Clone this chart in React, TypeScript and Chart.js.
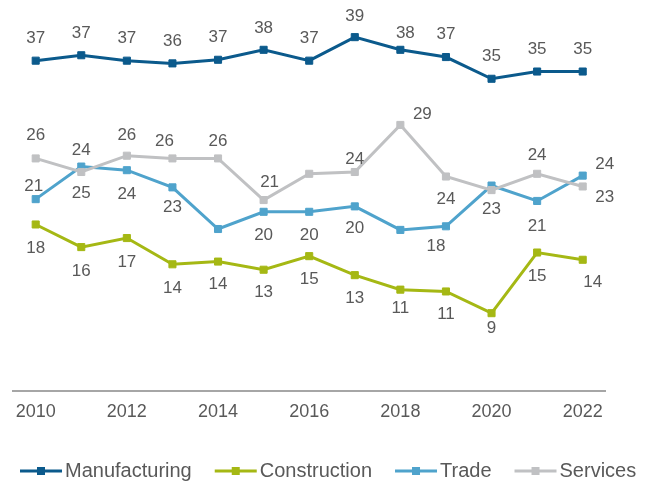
import React, { useEffect, useRef } from "react";
import { Chart, registerables } from "chart.js";

Chart.register(...registerables);

const YEARS = ["2010", "2011", "2012", "2013", "2014", "2015", "2016", "2017", "2018", "2019", "2020", "2021", "2022"];

const MANUFACTURING = [36.5, 37.1, 36.5, 36.2, 36.6, 37.7, 36.5, 39.1, 37.7, 36.9, 34.5, 35.3, 35.3];
const CONSTRUCTION = [18.4, 15.9, 16.9, 14.0, 14.3, 13.4, 14.9, 12.8, 11.2, 11.0, 8.6, 15.3, 14.5];
const TRADE = [21.2, 24.8, 24.4, 22.5, 17.9, 19.8, 19.8, 20.4, 17.8, 18.2, 22.7, 21.0, 23.8];
const SERVICES = [25.7, 24.2, 26.0, 25.7, 25.7, 21.1, 24.0, 24.2, 29.4, 23.7, 22.2, 24.0, 22.6];

const MANUFACTURING_LABELS = ["37", "37", "37", "36", "37", "38", "37", "39", "38", "37", "35", "35", "35"];
const CONSTRUCTION_LABELS = ["18", "16", "17", "14", "14", "13", "15", "13", "11", "11", "9", "15", "14"];
const TRADE_LABELS = ["21", "24", "24", "23", "", "20", "20", "20", "", "18", "23", "21", "24"];
const SERVICES_LABELS = ["26", "25", "26", "26", "26", "21", "", "24", "29", "24", "", "24", "23"];

// label placement relative to each point [dx, dy] (styling only)
const MANUFACTURING_LABEL_OFFSETS = [[0, -22], [0, -22], [0, -22], [0, -22], [0, -22], [0, -22], [0, -22], [0, -21], [5, -17], [0, -23], [0, -22], [0, -22], [0, -22]];
const CONSTRUCTION_LABEL_OFFSETS = [[0, 24], [0, 24], [0, 24], [0, 24], [0, 23], [0, 23], [0, 23], [0, 23], [0, 19], [0, 23], [0, 15], [0, 24], [10, 23]];
const TRADE_LABEL_OFFSETS = [[-2, -13], [0, -16], [0, 24], [0, 20], [0, 0], [0, 24], [0, 24], [0, 22], [0, 0], [-10, 20], [0, 24], [0, 25], [22, -11]];
const SERVICES_LABEL_OFFSETS = [[0, -23], [0, 21], [0, -20], [-8, -17], [0, -17], [6, -18], [0, 0], [0, -13], [22, -11], [0, 23], [0, 0], [0, -18], [22, 11]];

const SERIES = [
  { name: "Manufacturing", data: MANUFACTURING, labels: MANUFACTURING_LABELS, offsets: MANUFACTURING_LABEL_OFFSETS, color: "#0B5A8C", order: 3 },
  { name: "Construction", data: CONSTRUCTION, labels: CONSTRUCTION_LABELS, offsets: CONSTRUCTION_LABEL_OFFSETS, color: "#A5B814", order: 2 },
  { name: "Trade", data: TRADE, labels: TRADE_LABELS, offsets: TRADE_LABEL_OFFSETS, color: "#4FA3CC", order: 1 },
  { name: "Services", data: SERVICES, labels: SERVICES_LABELS, offsets: SERVICES_LABEL_OFFSETS, color: "#C0C1C3", order: 0 },
];

const TEXT_COLOR = "#595959";
const FONT_FAMILY = "'Liberation Sans', Arial, sans-serif";

const dataLabelPlugin = {
  id: "customDataLabels",
  afterDatasetsDraw(chart: any) {
    const ctx = chart.ctx;
    ctx.save();
    ctx.font = `17px ${FONT_FAMILY}`;
    ctx.fillStyle = TEXT_COLOR;
    ctx.textAlign = "center";
    ctx.textBaseline = "middle";
    SERIES.forEach((s, i) => {
      const meta = chart.getDatasetMeta(i);
      meta.data.forEach((el: any, j: number) => {
        const text = s.labels[j];
        if (!text) return;
        const [dx, dy] = s.offsets[j];
        ctx.fillText(text, el.x + dx, el.y + dy);
      });
    });
    ctx.restore();
  },
};

// legend drawn below the axis: line sample with square marker, then label
const legendPlugin = {
  id: "lineLegend",
  afterDraw(chart: any) {
    const ctx = chart.ctx;
    ctx.save();
    ctx.font = `20px ${FONT_FAMILY}`;
    ctx.textBaseline = "middle";
    ctx.textAlign = "left";
    const cy = 471;
    let x = 20;
    chart.data.datasets.forEach((ds: any) => {
      const color = ds.borderColor;
      ctx.strokeStyle = color;
      ctx.lineWidth = 3;
      ctx.beginPath();
      ctx.moveTo(x, cy);
      ctx.lineTo(x + 42, cy);
      ctx.stroke();
      ctx.fillStyle = color;
      ctx.fillRect(x + 17, cy - 4, 8, 8);
      ctx.fillStyle = TEXT_COLOR;
      ctx.fillText(ds.label, x + 45, cy);
      x += 45 + ctx.measureText(ds.label).width + 23;
    });
    ctx.restore();
  },
};

export default function App() {
  const ref = useRef<HTMLCanvasElement>(null);

  useEffect(() => {
    document.body.style.margin = "0";
    document.body.style.overflow = "hidden";

    const chart = new Chart(ref.current!, {
      type: "line",
      data: {
        labels: YEARS,
        datasets: SERIES.map((s) => ({
          label: s.name,
          data: s.data,
          borderColor: s.color,
          backgroundColor: s.color,
          borderWidth: 3,
          pointStyle: "rect",
          pointRadius: 5,
          pointBorderWidth: 1,
          pointBackgroundColor: s.color,
          pointBorderColor: s.color,
          tension: 0,
          fill: false,
          order: s.order,
        })),
      },
      plugins: [dataLabelPlugin, legendPlugin],
      options: {
        responsive: false,
        animation: false,
        devicePixelRatio: 1,
        layout: { padding: { top: 29, left: 0, right: 0, bottom: 53 } },
        scales: {
          x: {
            type: "category",
            offset: true,
            grid: { display: false, drawTicks: false },
            border: { display: true, color: "#A6A6A6", width: 2 },
            ticks: {
              autoSkip: false,
              maxRotation: 0,
              minRotation: 0,
              padding: 10.2,
              color: TEXT_COLOR,
              font: { size: 18, family: FONT_FAMILY },
              callback: (_v: any, idx: number) => (idx % 2 === 0 ? YEARS[idx] : ""),
            },
          },
          y: {
            position: "left",
            min: 0,
            max: 40,
            grid: { display: false, drawTicks: false },
            border: { display: false },
            ticks: { display: false },
            afterFit: (scale: any) => {
              scale.width = 12.9;
            },
          },
          yRight: {
            position: "right",
            min: 0,
            max: 40,
            grid: { display: false, drawTicks: false },
            border: { display: false },
            ticks: { display: false },
            afterFit: (scale: any) => {
              scale.width = 45.5;
            },
          },
        },
        plugins: {
          tooltip: { enabled: false },
          legend: { display: false },
        },
      },
    });
    return () => chart.destroy();
  }, []);

  return (
    <div style={{ width: 651, height: 486 }}>
      <canvas ref={ref} width={651} height={486} style={{ display: "block" }} />
    </div>
  );
}
